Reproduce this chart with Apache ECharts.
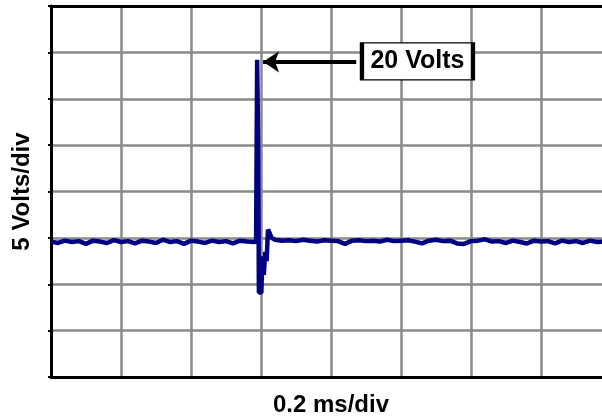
<!DOCTYPE html>
<html>
<head>
<meta charset="utf-8">
<script src="https://cdn.jsdelivr.net/npm/echarts@6/dist/echarts.min.js"></script>
<style>
html,body{margin:0;padding:0;background:#fff;}
#chart{width:602px;height:419px;}
</style>
</head>
<body>
<div id="chart"></div>
<script>
// Time (ms) and voltage (V) of the trace
var timeMs = [
  0.00,0.02,0.04,0.06,0.08,0.10,0.12,0.14,0.16,0.18,
  0.20,0.22,0.24,0.26,0.28,0.30,0.32,0.34,0.36,0.38,
  0.40,0.42,0.44,0.46,0.48,0.50,0.52,0.54,0.56,0.58,
  0.586,0.589,0.592,0.594,0.598,0.601,0.604,0.608,0.612,0.616,
  0.620,0.625,0.630,0.640,0.660,0.680,0.700,0.720,0.740,0.760,
  0.780,0.800,0.820,0.840,0.860,0.880,0.900,0.920,0.940,0.960,
  0.980,1.000,1.020,1.040,1.060,1.080,1.100,1.120,1.140,1.160,
  1.180,1.200,1.220,1.240,1.260,1.280,1.300,1.320,1.340,1.360,
  1.380,1.400,1.420,1.440,1.460,1.480,1.500,1.520,1.540,1.560,
  1.580,1.600
];
var volts = [
  -0.40,-0.55,-0.30,-0.45,-0.35,-0.65,-0.30,-0.40,-0.55,-0.25,
  -0.45,-0.35,-0.60,-0.30,-0.40,-0.55,-0.20,-0.45,-0.35,-0.65,
  -0.30,-0.40,-0.55,-0.30,-0.45,-0.35,-0.60,-0.30,-0.40,-0.45,
  -0.40,19.20,10.00,-5.90,-5.80,-5.90,-2.00,-4.00,-1.50,-2.50,
  0.90,0.50,0.00,-0.20,-0.30,-0.25,-0.35,-0.20,-0.30,-0.40,
  -0.25,-0.30,-0.35,-0.65,-0.30,-0.25,-0.35,-0.30,-0.40,-0.20,
  -0.35,-0.30,-0.25,-0.40,-0.60,-0.30,-0.20,-0.35,-0.30,-0.60,
  -0.65,-0.35,-0.30,-0.15,-0.40,-0.35,-0.55,-0.30,-0.45,-0.60,
  -0.30,-0.40,-0.35,-0.60,-0.30,-0.45,-0.35,-0.55,-0.30,-0.45,
  -0.40,-0.35
];
// Axis scale: 0.2 ms/div horizontally, 5 V/div vertically
var xMin = 0, xMax = 1.6, xStep = 0.2;
var yMin = -15, yMax = 25, yStep = 5;
// Annotation
var peakLabel = '20 Volts';
var arrowFrom = [0.872, 18.98];
var arrowTo = [0.606, 18.98];
var labelAt = [1.047, 19.03];
var xName = '0.2 ms/div';
var yName = '5 Volts/div';

var points = timeMs.map(function (t, i) { return [t, volts[i]]; });
var FONT = '"Liberation Sans", Arial, sans-serif';

var chart = echarts.init(document.getElementById('chart'), null, {renderer: 'canvas'});
chart.setOption({
  animation: false,
  backgroundColor: '#ffffff',
  grid: {left: 51, width: 560, top: 6, height: 371, containLabel: false, outerBoundsMode: 'none'},
  xAxis: [{
    type: 'value', min: xMin, max: xMax, interval: xStep, position: 'bottom',
    name: xName, nameLocation: 'middle', nameGap: 16,
    nameTextStyle: {fontFamily: FONT, fontSize: 24, fontWeight: 'bold', color: '#000'},
    axisLine: {show: true, onZero: false, lineStyle: {color: '#000', width: 3}},
    axisTick: {show: false}, axisLabel: {show: false},
    splitLine: {show: true, lineStyle: {color: '#8a8a8a', width: 2.5}}
  }, {
    type: 'value', min: xMin, max: xMax, interval: xStep, position: 'top',
    axisLine: {show: true, onZero: false, lineStyle: {color: '#000', width: 3}},
    axisTick: {show: false}, axisLabel: {show: false}, splitLine: {show: false}
  }],
  yAxis: {
    type: 'value', min: yMin, max: yMax, interval: yStep,
    name: yName, nameLocation: 'middle', nameGap: 17, nameRotate: 90,
    nameTextStyle: {fontFamily: FONT, fontSize: 24, fontWeight: 'bold', color: '#000'},
    axisLine: {show: true, onZero: false, lineStyle: {color: '#000', width: 3}},
    axisTick: {show: true, length: 3, lineStyle: {color: '#000', width: 2}},
    axisLabel: {show: false},
    splitLine: {show: true, lineStyle: {color: '#8a8a8a', width: 2.5}}
  },
  series: [{
    type: 'line', data: points, showSymbol: false, symbol: 'none',
    lineStyle: {color: '#000080', width: 4.5}, z: 5,
    markLine: {
      silent: true, symbol: ['none', 'arrow'], symbolSize: 16,
      lineStyle: {color: '#000', width: 4, type: 'solid'},
      label: {show: false},
      data: [[{coord: arrowFrom}, {coord: arrowTo}]]
    },
    markPoint: {
      silent: true,
      data: [{coord: labelAt, symbol: 'rect', symbolSize: [111, 37],
        itemStyle: {color: '#fff', borderColor: '#000', borderWidth: 2.5},
        label: {show: true, position: 'inside', formatter: peakLabel,
          fontFamily: FONT, fontSize: 25, fontWeight: 'bold', color: '#000'}}]
    }
  }]
});
</script>
</body>
</html>
